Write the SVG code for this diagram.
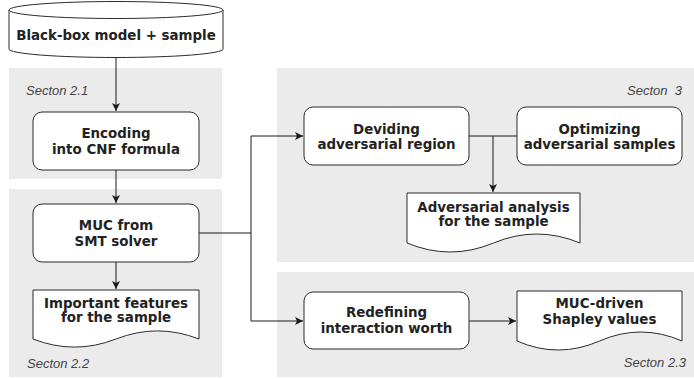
<svg xmlns="http://www.w3.org/2000/svg" width="694" height="379" viewBox="0 0 694 379">
<style>
.sec{fill:#ebebeb;stroke:none}
.box{fill:#ffffff;stroke:#2b2b2b;stroke-width:1}
.t{font-family:"DejaVu Sans",Verdana,sans-serif;font-weight:bold;font-size:13.4px;fill:#222222;text-anchor:middle}
.lbl{font-family:"Liberation Sans",Arial,sans-serif;font-style:italic;font-size:13px;fill:#444444}
.c{fill:none;stroke:#1a1a1a;stroke-width:1}
</style>
<defs>
<marker id="arr" markerUnits="userSpaceOnUse" markerWidth="10" markerHeight="10" refX="8" refY="4" orient="auto">
<path d="M0,0 L8,4 L0,8 L2,4 Z" fill="#1a1a1a"/>
</marker>
</defs>
<g id="sections">
<rect class="sec" x="9" y="68" width="213" height="111"/>
<rect class="sec" x="9" y="189" width="213" height="188"/>
<rect class="sec" x="277" y="68" width="417" height="194"/>
<rect class="sec" x="277" y="272" width="417" height="105"/>
<text class="lbl" x="26" y="95">Secton 2.1</text>
<text class="lbl" x="27" y="368">Secton 2.2</text>
<text class="lbl" x="682" y="95" text-anchor="end" xml:space="preserve">Secton  3</text>
<text class="lbl" x="686" y="367" text-anchor="end">Secton 2.3</text>
</g>
<g id="connectors">
<path class="c" d="M116,57 V111" marker-end="url(#arr)"/>
<path class="c" d="M116,170 V203" marker-end="url(#arr)"/>
<path class="c" d="M116,262 V289" marker-end="url(#arr)"/>
<path class="c" d="M199,233 H251 V136 H303" marker-end="url(#arr)"/>
<path class="c" d="M251,233 V321 H303" marker-end="url(#arr)"/>
<path class="c" d="M469,136 H517"/>
<path class="c" d="M493,136 V192" marker-end="url(#arr)"/>
<path class="c" d="M469,321 H516" marker-end="url(#arr)"/>
</g>
<g id="blackbox">
<path class="box" stroke-width="1.3" d="M9,10 A107,8.5 0 0 1 223,10 V49 A107,8.5 0 0 1 9,49 Z"/>
<path class="box" fill="none" stroke-width="1.3" d="M9,10 A107,8.5 0 0 0 223,10"/>
<text class="t" x="116" y="40">Black-box model + sample</text>
</g>
<g id="encoding">
<rect class="box" x="33" y="112" width="166" height="58" rx="9"/>
<text class="t" x="116" y="138">Encoding</text>
<text class="t" x="116" y="154">into CNF formula</text>
</g>
<g id="muc">
<rect class="box" x="33" y="204" width="166" height="58" rx="9"/>
<text class="t" x="116" y="229.5">MUC from</text>
<text class="t" x="116" y="245.5">SMT solver</text>
</g>
<g id="important">
<path class="box" d="M33,290 H199 V339 Q157.5,322.8 116,339 Q74.5,355.2 33,339 Z"/>
<text class="t" x="116" y="307.5">Important features</text>
<text class="t" x="116" y="322">for the sample</text>
</g>
<g id="deviding">
<rect class="box" x="304" y="107" width="165" height="58" rx="9"/>
<text class="t" x="386.5" y="133.5">Deviding</text>
<text class="t" x="386.5" y="148.5">adversarial region</text>
</g>
<g id="optimizing">
<rect class="box" x="517" y="107" width="165" height="58" rx="9"/>
<text class="t" x="599.5" y="133.5">Optimizing</text>
<text class="t" x="599.5" y="148.5">adversarial samples</text>
</g>
<g id="adversarial">
<path class="box" d="M407,193 H580 V243 Q536.75,225 493.5,243 Q450.25,261 407,243 Z"/>
<text class="t" x="493.5" y="212">Adversarial analysis</text>
<text class="t" x="493.5" y="226">for the sample</text>
</g>
<g id="redefining">
<rect class="box" x="304" y="292" width="165" height="57" rx="9"/>
<text class="t" x="386.5" y="317">Redefining</text>
<text class="t" x="386.5" y="332.5">interaction worth</text>
</g>
<g id="shapley">
<path class="box" d="M517,291 H682 V341 Q640.75,323 599.5,341 Q558.25,359 517,341 Z"/>
<text class="t" x="599.5" y="308">MUC-driven</text>
<text class="t" x="599.5" y="324">Shapley values</text>
</g>
</svg>
